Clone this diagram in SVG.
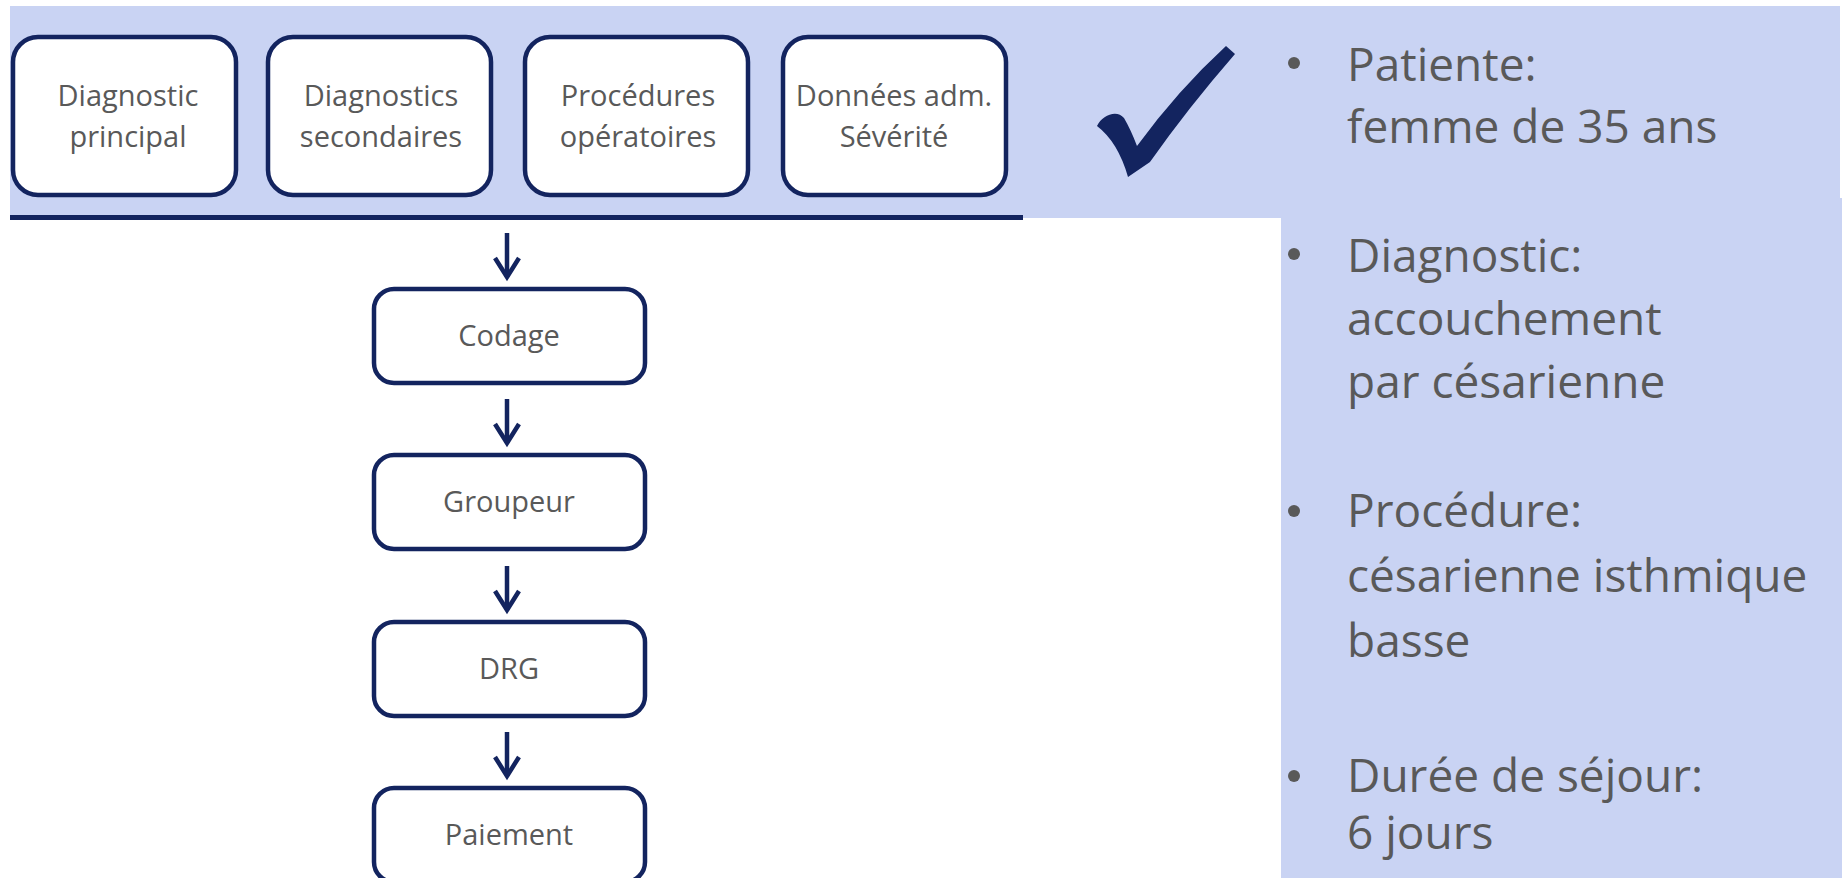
<svg xmlns="http://www.w3.org/2000/svg" width="1842" height="878" viewBox="0 0 1842 878">
  <style>
    .bg { fill: #c9d3f3; }
    .box { fill: #ffffff; stroke: #13245f; stroke-width: 4.5; }
    .lbl { font-family: "Open Sans", "Liberation Sans", sans-serif; font-size: 29px; fill: #595959; text-anchor: middle; }
    .info { font-family: "Open Sans", "Liberation Sans", sans-serif; font-size: 46px; fill: #595959; }
    .dot { fill: #595959; }
    .flow { stroke: #13245f; stroke-width: 4.5; fill: none; }
  </style>
  <defs>
    <marker id="head" markerUnits="userSpaceOnUse" markerWidth="30" markerHeight="30" orient="auto" overflow="visible">
      <path d="M -19 -12 L 0 0 L -19 12" fill="none" stroke="#13245f" stroke-width="4.5" stroke-linejoin="miter"/>
    </marker>
  </defs>

  <rect width="1842" height="878" fill="#ffffff"/>

  <!-- background panels -->
  <g id="panels">
    <rect class="bg" x="10" y="6" width="1830" height="212"/>
    <rect class="bg" x="1281" y="198" width="561" height="680"/>
    <rect x="10" y="215" width="1013" height="5" fill="#13245f"/>
  </g>

  <!-- input categories -->
  <g id="diag-principal">
    <rect class="box" x="13" y="37" width="223" height="158" rx="25"/>
    <text class="lbl" x="128" y="106">Diagnostic</text>
    <text class="lbl" x="128" y="147">principal</text>
  </g>
  <g id="diag-secondaires">
    <rect class="box" x="268" y="37" width="223" height="158" rx="25"/>
    <text class="lbl" x="381" y="106">Diagnostics</text>
    <text class="lbl" x="381" y="147">secondaires</text>
  </g>
  <g id="procedures">
    <rect class="box" x="525" y="37" width="223" height="158" rx="25"/>
    <text class="lbl" x="638" y="106">Procédures</text>
    <text class="lbl" x="638" y="147">opératoires</text>
  </g>
  <g id="donnees">
    <rect class="box" x="783" y="37" width="223" height="158" rx="25"/>
    <text class="lbl" x="894" y="106">Données adm.</text>
    <text class="lbl" x="894" y="147">Sévérité</text>
  </g>

  <!-- check mark -->
  <g id="check">
    <path d="M 1097 126 C 1102 115 1117 109 1124 118 Q 1131 130 1137 146 Q 1178 90 1226 46 L 1235 54 Q 1188 108 1150 162 L 1128 177 Q 1118 142 1097 126 Z" fill="#13245f"/>
  </g>

  <!-- processing chain -->
  <g id="codage">
    <rect class="box" x="374" y="289" width="271" height="94" rx="20"/>
    <text class="lbl" x="509" y="346">Codage</text>
  </g>
  <g id="groupeur">
    <rect class="box" x="374" y="455" width="271" height="94" rx="20"/>
    <text class="lbl" x="509" y="512">Groupeur</text>
  </g>
  <g id="drg">
    <rect class="box" x="374" y="622" width="271" height="94" rx="20"/>
    <text class="lbl" x="509" y="679">DRG</text>
  </g>
  <g id="paiement">
    <rect class="box" x="374" y="788" width="271" height="94" rx="20"/>
    <text class="lbl" x="509" y="845">Paiement</text>
  </g>

  <g id="connectors">
    <line class="flow" x1="507" y1="233" x2="507" y2="277" marker-end="url(#head)"/>
    <line class="flow" x1="507" y1="399" x2="507" y2="443" marker-end="url(#head)"/>
    <line class="flow" x1="507" y1="566" x2="507" y2="610" marker-end="url(#head)"/>
    <line class="flow" x1="507" y1="732" x2="507" y2="776" marker-end="url(#head)"/>
  </g>

  <!-- case description -->
  <g id="case">
    <circle class="dot" cx="1294" cy="63" r="6"/>
    <text class="info" x="1347" y="81">Patiente:</text>
    <text class="info" x="1347" y="143">femme de 35 ans</text>

    <circle class="dot" cx="1294" cy="254" r="6"/>
    <text class="info" x="1347" y="272">Diagnostic:</text>
    <text class="info" x="1347" y="335">accouchement</text>
    <text class="info" x="1347" y="398">par césarienne</text>

    <circle class="dot" cx="1294" cy="511" r="6"/>
    <text class="info" x="1347" y="527">Procédure:</text>
    <text class="info" x="1347" y="592">césarienne isthmique</text>
    <text class="info" x="1347" y="657">basse</text>

    <circle class="dot" cx="1294" cy="776" r="6"/>
    <text class="info" x="1347" y="792">Durée de séjour:</text>
    <text class="info" x="1347" y="849">6 jours</text>
  </g>
</svg>
